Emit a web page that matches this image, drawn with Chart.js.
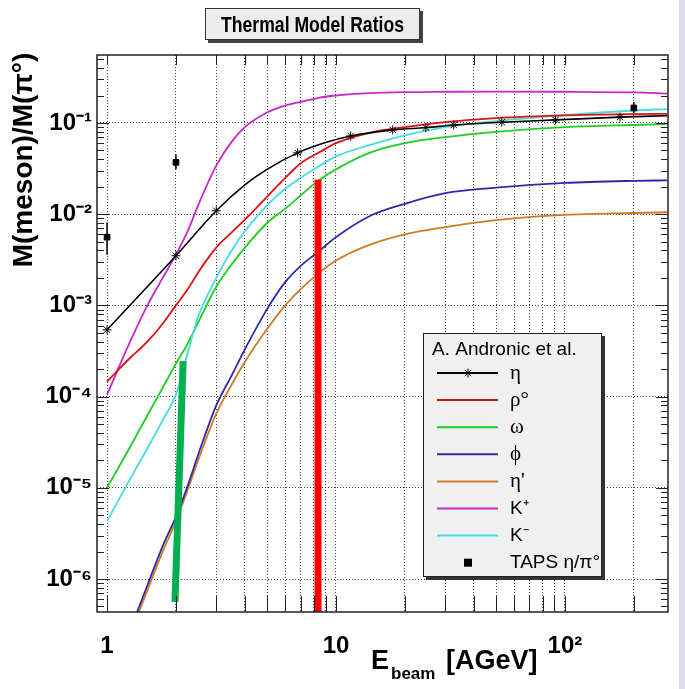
<!DOCTYPE html>
<html>
<head>
<meta charset="utf-8">
<title>Thermal Model Ratios</title>
<script src="https://cdn.jsdelivr.net/npm/chart.js@4.4.0/dist/chart.umd.min.js"></script>
<style>
  html, body { margin: 0; padding: 0; background: #fff; }
  canvas { display: block; }
</style>
</head>
<body>
<canvas id="ratioChart" width="685" height="689"></canvas>
<script>
// beam energy grid (AGeV) shared by the model curves
const energies = [1, 1.25, 1.5, 1.75, 2, 2.25, 2.5, 3, 3.5, 4, 5, 6, 7, 8.5, 10, 14, 20, 30, 50, 100, 200, 280];

const rho0   = [1.46e-4, 2.6e-4, 4.0e-4, 6.3e-4, 1.0e-3, 1.5e-3, 2.3e-3, 4.3e-3, 6.3e-3, 8.7e-3, 0.0155, 0.025, 0.036, 0.048, 0.060, 0.078, 0.090, 0.102, 0.113, 0.121, 0.125, 0.126];
const omega  = [1.0e-5, 2.7e-5, 6.2e-5, 1.25e-4, 2.3e-4, 3.8e-4, 6.5e-4, 1.6e-3, 2.8e-3, 4.3e-3, 8.0e-3, 0.0115, 0.016, 0.024, 0.031, 0.047, 0.060, 0.070, 0.080, 0.090, 0.095, 0.097];
const phi    = [null, 2.6e-7, 8.5e-7, 2.3e-6, 4.8e-6, 1.05e-5, 2.3e-5, 8.0e-5, 1.7e-4, 3.3e-4, 9.1e-4, 1.8e-3, 2.7e-3, 4.0e-3, 5.6e-3, 9.5e-3, 0.013, 0.017, 0.0195, 0.022, 0.0232, 0.0235];
const etaPrime = [null, 2.3e-7, 7.5e-7, 2.0e-6, 4.3e-6, 9.5e-6, 2.0e-5, 6.5e-5, 1.35e-4, 2.4e-4, 5.5e-4, 1.0e-3, 1.5e-3, 2.3e-3, 3.1e-3, 4.6e-3, 6.0e-3, 7.2e-3, 8.6e-3, 9.8e-3, 0.0103, 0.0105];
const kPlus  = [1.05e-4, 3.8e-4, 1.0e-3, 2.0e-3, 3.6e-3, 6.5e-3, 0.0125, 0.034, 0.062, 0.090, 0.130, 0.155, 0.170, 0.190, 0.200, 0.212, 0.218, 0.220, 0.221, 0.220, 0.216, 0.210];
const kMinus = [4.3e-6, 1.2e-5, 2.7e-5, 5.5e-5, 1.05e-4, 3.0e-4, 7.5e-4, 2.0e-3, 4.0e-3, 6.5e-3, 0.0125, 0.019, 0.025, 0.034, 0.043, 0.057, 0.073, 0.090, 0.105, 0.122, 0.137, 0.142];

// eta curve has its own points, stars only where the model was evaluated
const etaE     = [1, 2, 3, 4, 5, 6.8, 9, 11.6, 17.7, 24.7, 32.7, 53, 91, 174, 280];
const etaVal   = [5.4e-4, 3.5e-3, 0.0109, 0.021, 0.031, 0.047, 0.061, 0.072, 0.084, 0.089, 0.095, 0.102, 0.108, 0.116, 0.120];
const etaStarE = [1, 2, 3, 6.8, 11.6, 17.7, 24.7, 32.7, 53, 91, 174];

// TAPS eta/pi0 measurements
const tapsE    = [1, 2, 200];
const tapsVal  = [5.6e-3, 0.037, 0.146];
const tapsLow  = [3.6e-3, 0.031, 0.128];
const tapsHigh = [8.1e-3, 0.045, 0.170];

// thick marker bars (energy at bottom, energy at top, value range)
const greenBarE = [1.98, 2.15];
const greenBarY = [5.6e-7, 2.45e-4];
const redBarE   = [8.35, 8.35];
const redBarY   = [1e-7, 0.0238];

// axes
const xMin = 0.904, xMax = 282;
const yMin = 4.35e-7, yMax = 0.556;
const xTickValues = [1, 2, 3, 4, 5, 6, 7, 8, 9, 10, 20, 30, 40, 50, 60, 70, 80, 90, 100, 200];
const xTickLabels = {1: '1', 10: '10', 100: '10\u00B2'};
const yTickValues = [1e-6, 1e-5, 1e-4, 1e-3, 1e-2, 1e-1];
const yTickLabels = ['10\u207B\u2076', '10\u207B\u2075', '10\u207B\u2074', '10\u207B\u00B3', '10\u207B\u00B2', '10\u207B\u00B9'];

const colors = {
  eta: '#000000', rho: '#e01010', omega: '#22cc22', phi: '#2a2aa8',
  etaP: '#d07a28', kp: '#c828c8', km: '#44dede', taps: '#000000'
};

const legendItems = [
  { label: '\u03B7', color: colors.eta, star: true, serif: true },
  { label: '\u03C1\u00B0', color: colors.rho, serif: true },
  { label: '\u03C9', color: colors.omega, serif: true },
  { label: '\u03D5', color: colors.phi, serif: true },
  { label: '\u03B7\'', color: colors.etaP, serif: true },
  { label: 'K\u207A', color: colors.kp },
  { label: 'K\u207B', color: colors.km },
  { label: 'TAPS \u03B7/\u03C0\u00B0', color: colors.taps, square: true }
];

const SANS = '"Liberation Sans", Arial, sans-serif';
const SERIF = '"Liberation Serif", "Times New Roman", serif';

function toPoints(xs, ys) {
  return xs.map((x, i) => ({ x: x, y: ys[i] })).filter(p => p.y !== null);
}

function curve(values, color) {
  return {
    data: toPoints(energies, values),
    borderColor: color,
    borderWidth: 1.8,
    pointRadius: 0,
    cubicInterpolationMode: 'monotone',
    clip: 0
  };
}

const errorBarData = [];
tapsE.forEach((e, i) => {
  errorBarData.push({ x: e, y: tapsLow[i] }, { x: e, y: tapsHigh[i] }, { x: e, y: null });
});

const frameAndLabels = {
  id: 'frameAndLabels',
  beforeDraw(chart) {
    const ctx = chart.ctx;
    ctx.save();
    ctx.fillStyle = '#ffffff';
    ctx.fillRect(0, 0, chart.width, chart.height);
    ctx.fillStyle = '#dcdcf4';
    ctx.fillRect(679, 0, 6, chart.height);
    ctx.restore();
  },
  afterDraw(chart) {
    const ctx = chart.ctx;
    const a = chart.chartArea;
    const xs = chart.scales.x, ys = chart.scales.y;
    ctx.save();

    // frame
    ctx.strokeStyle = '#222';
    ctx.lineWidth = 1.5;
    ctx.strokeRect(a.left, a.top, a.right - a.left, a.bottom - a.top);

    // tick marks on x (bottom and top)
    ctx.lineWidth = 1;
    xTickValues.forEach(v => {
      const px = Math.round(xs.getPixelForValue(v)) + 0.5;
      ctx.beginPath();
      ctx.moveTo(px, a.bottom); ctx.lineTo(px, a.bottom - 16);
      ctx.moveTo(px, a.top); ctx.lineTo(px, a.top + 10);
      ctx.stroke();
    });
    // tick marks on y (left and right), decades long, minor short
    for (let d = -7; d <= 0; d++) {
      for (let k = 1; k <= 9; k++) {
        const v = k * Math.pow(10, d);
        if (v < yMin || v > yMax) continue;
        const py = Math.round(ys.getPixelForValue(v)) + 0.5;
        const len = k === 1 ? 12 : 7;
        ctx.beginPath();
        ctx.moveTo(a.left, py); ctx.lineTo(a.left + len, py);
        ctx.moveTo(a.right, py); ctx.lineTo(a.right - len, py);
        ctx.stroke();
      }
    }

    // title box
    ctx.fillStyle = '#444';
    ctx.fillRect(208, 11, 215, 32);
    ctx.fillStyle = '#ececec';
    ctx.fillRect(205, 8, 215, 32);
    ctx.strokeStyle = '#333';
    ctx.strokeRect(205.5, 8.5, 214, 31);
    ctx.fillStyle = '#000';
    ctx.save();
    ctx.translate(312.5, 25);
    ctx.scale(0.8, 1);
    ctx.font = 'bold 22px ' + SANS;
    ctx.textAlign = 'center';
    ctx.textBaseline = 'middle';
    ctx.fillText('Thermal Model Ratios', 0, 1);
    ctx.restore();

    // y axis title
    ctx.save();
    ctx.translate(24, 160);
    ctx.rotate(-Math.PI / 2);
    ctx.font = 'bold 28px ' + SANS;
    ctx.textAlign = 'center';
    ctx.textBaseline = 'middle';
    ctx.fillText('M(meson)/M(\u03C0\u00B0)', 0, 0);
    ctx.restore();

    // x axis title with subscript
    ctx.textAlign = 'left';
    ctx.textBaseline = 'alphabetic';
    ctx.font = 'bold 27px ' + SANS;
    ctx.fillText('E', 371, 669);
    ctx.font = 'bold 17px ' + SANS;
    ctx.fillText('beam', 391, 679);
    ctx.font = 'bold 27px ' + SANS;
    ctx.fillText('[AGeV]', 446, 669);

    // legend box
    const lx = 423, ly = 333, lw = 179, lh = 244;
    ctx.fillStyle = '#333';
    ctx.fillRect(lx + 3, ly + 3, lw, lh);
    ctx.fillStyle = '#f0f0f0';
    ctx.fillRect(lx, ly, lw, lh);
    ctx.strokeStyle = '#222';
    ctx.lineWidth = 1;
    ctx.strokeRect(lx + 0.5, ly + 0.5, lw - 1, lh - 1);
    ctx.fillStyle = '#000';
    ctx.font = '19px ' + SANS;
    ctx.textBaseline = 'middle';
    ctx.fillText('A. Andronic et al.', 432, 350);
    legendItems.forEach((item, i) => {
      const y = 373 + i * 27.1;
      if (item.square) {
        ctx.fillStyle = item.color;
        ctx.fillRect(464, y - 4, 8, 8);
      } else {
        ctx.strokeStyle = item.color;
        ctx.lineWidth = 2;
        ctx.beginPath();
        ctx.moveTo(437, y); ctx.lineTo(498, y);
        ctx.stroke();
        if (item.star) {
          ctx.lineWidth = 1;
          ctx.strokeStyle = '#000';
          ctx.beginPath();
          for (let k = 0; k < 4; k++) {
            const ang = k * Math.PI / 4;
            ctx.moveTo(468 - 4.5 * Math.cos(ang), y - 4.5 * Math.sin(ang));
            ctx.lineTo(468 + 4.5 * Math.cos(ang), y + 4.5 * Math.sin(ang));
          }
          ctx.stroke();
        }
      }
      ctx.fillStyle = '#000';
      ctx.font = (item.serif ? '21px ' + SERIF : '19px ' + SANS);
      ctx.fillText(item.label, 510, y);
    });

    ctx.restore();
  }
};

new Chart(document.getElementById('ratioChart').getContext('2d'), {
  type: 'line',
  data: {
    datasets: [
      { // red bar
        data: toPoints(redBarE, redBarY),
        borderColor: '#ff0000', borderWidth: 7, pointRadius: 0, borderCapStyle: 'butt', clip: 0
      },
      { // green bar
        data: toPoints(greenBarE, greenBarY),
        borderColor: '#00b050', borderWidth: 7, pointRadius: 0, borderCapStyle: 'butt', clip: 0
      },
      { // TAPS error bars
        data: errorBarData,
        borderColor: colors.taps, borderWidth: 1.5, pointRadius: 0, spanGaps: false, clip: 0
      },
      { // TAPS points
        data: toPoints(tapsE, tapsVal),
        showLine: false, pointStyle: 'rect', pointRadius: 4,
        pointBackgroundColor: colors.taps, pointBorderColor: colors.taps, clip: 0
      },
      { // eta with stars
        data: toPoints(etaE, etaVal),
        borderColor: colors.eta, borderWidth: 1.6,
        cubicInterpolationMode: 'monotone',
        pointStyle: 'star',
        pointRadius: ctx => etaStarE.includes(etaE[ctx.dataIndex]) ? 4.5 : 0,
        pointBorderColor: colors.eta, pointBorderWidth: 1, clip: 0
      },
      curve(rho0, colors.rho),
      curve(kMinus, colors.km),
      curve(omega, colors.omega),
      curve(kPlus, colors.kp),
      curve(phi, colors.phi),
      curve(etaPrime, colors.etaP)
    ]
  },
  options: {
    responsive: false,
    animation: false,
    events: [],
    devicePixelRatio: 1,
    layout: { padding: { top: 55, right: 17, left: 0, bottom: 0 } },
    plugins: { legend: { display: false }, tooltip: { enabled: false }, title: { display: false } },
    scales: {
      x: {
        type: 'logarithmic',
        min: xMin, max: xMax,
        afterBuildTicks: s => { s.ticks = xTickValues.map(v => ({ value: v })); },
        afterFit: s => { s.height = 77; },
        ticks: {
          autoSkip: false, maxRotation: 0, padding: 20,
          color: '#000',
          font: { family: SANS, size: 24, weight: 'bold' },
          callback: v => xTickLabels[v] || ''
        },
        grid: { color: 'rgba(0,0,0,0.75)', lineWidth: 1, drawTicks: false },
        border: { display: false, dash: [1, 2] }
      },
      y: {
        type: 'logarithmic',
        min: yMin, max: yMax,
        afterBuildTicks: s => { s.ticks = yTickValues.map(v => ({ value: v })); },
        afterFit: s => { s.width = 97; },
        ticks: {
          autoSkip: false, padding: 5,
          color: '#000',
          font: { family: SANS, size: 24, weight: 'bold' },
          callback: (v, i) => yTickLabels[i]
        },
        grid: { color: 'rgba(0,0,0,0.75)', lineWidth: 1, drawTicks: false },
        border: { display: false, dash: [1, 2] }
      }
    }
  },
  plugins: [frameAndLabels]
});
</script>
</body>
</html>
